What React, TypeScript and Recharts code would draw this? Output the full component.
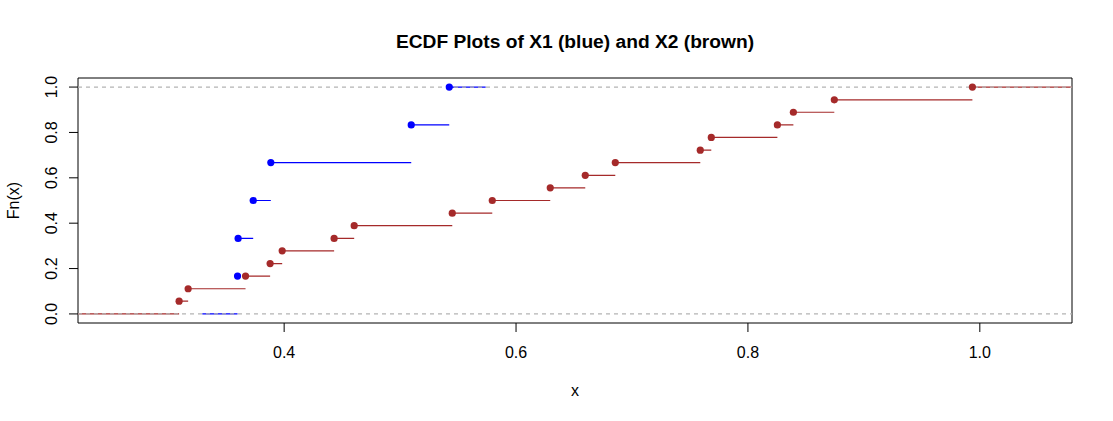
import React from 'react';
import { ComposedChart, Line, Scatter, XAxis, YAxis, ReferenceArea, Label } from 'recharts';

// sample knots, with the ECDF level reached at each knot
const x1Knots = [0.3598, 0.3603, 0.3733, 0.3885, 0.5096, 0.5424];
const x1Fn = [0.167, 0.333, 0.5, 0.667, 0.833, 1.0];
const x2Knots = [
  0.3094, 0.3172, 0.3667, 0.3879, 0.3983, 0.4431, 0.4604, 0.545, 0.5795,
  0.6295, 0.6597, 0.6856, 0.7589, 0.7684, 0.8254, 0.8392, 0.8745, 0.9936,
];
const x2Fn = [
  0.056, 0.111, 0.167, 0.222, 0.278, 0.333, 0.389, 0.444, 0.5,
  0.556, 0.611, 0.667, 0.722, 0.778, 0.833, 0.889, 0.944, 1.0,
];

const xTicks = [0.4, 0.6, 0.8, 1.0];
const yTicks = [0, 0.2, 0.4, 0.6, 0.8, 1.0];
const xDomain = [0.2222, 1.0795];
const yDomain = [-0.04, 1.04];
// how far each step function is drawn to the left/right
const x1Range = [0.3294, 0.5738];
const x2Range = [0.2222, 1.0795];
const refLevels = [0, 1];

const BLUE = '#0000ff';
const BROWN = '#a52a2a';
const FONT = '"Liberation Sans", Arial, sans-serif';

type Pt = { x: number; y: number | null };

// horizontal pieces of the step function, split by null points
const stepSegments = (knots: number[], fn: number[], lo: number, hi: number): Pt[] => {
  const starts = [lo, ...knots];
  const ends = [...knots, hi];
  const levels = [0, ...fn];
  const pts: Pt[] = [];
  starts.forEach((s, i) => {
    pts.push({ x: s, y: levels[i] });
    pts.push({ x: ends[i], y: levels[i] });
    pts.push({ x: ends[i], y: null });
  });
  return pts;
};

const x1Steps = stepSegments(x1Knots, x1Fn, x1Range[0], x1Range[1]);
const x2Steps = stepSegments(x2Knots, x2Fn, x2Range[0], x2Range[1]);
const x1Points = x1Knots.map((x, i) => ({ x, y: x1Fn[i] }));
const x2Points = x2Knots.map((x, i) => ({ x, y: x2Fn[i] }));
const refLines = refLevels.map((lv) => [
  { x: xDomain[0], y: lv },
  { x: xDomain[1], y: lv },
]);

const dot = (color: string) => (props: any) => (
  <circle cx={props.cx} cy={props.cy} r={3.6} fill={color} stroke="none" />
);

const XTick = (props: any) => (
  <text x={props.x} y={358} textAnchor="middle" fontSize={16} fontFamily={FONT} fill="#000">
    {props.payload.value.toFixed(1)}
  </text>
);

const YTick = (props: any) => (
  <text
    x={52}
    y={props.y}
    textAnchor="middle"
    dominantBaseline="central"
    fontSize={16}
    fontFamily={FONT}
    fill="#000"
    transform={`rotate(-90 52 ${props.y})`}
  >
    {props.payload.value.toFixed(1)}
  </text>
);

export default function App() {
  return (
    <div style={{ position: 'absolute', left: 0, top: 0, width: 1113, height: 421, background: '#fff' }}>
      <svg width={1113} height={78} style={{ position: 'absolute', left: 0, top: 0 }}>
        <text x={575} y={47.5} textAnchor="middle" fontSize={19.2} fontWeight="bold" fontFamily={FONT} fill="#000">
          ECDF Plots of X1 (blue) and X2 (brown)
        </text>
      </svg>
      <ComposedChart width={1113} height={421} margin={{ top: 78, right: 41, bottom: 0, left: 0 }}>
        <XAxis
          dataKey="x"
          type="number"
          domain={xDomain}
          allowDataOverflow
          ticks={xTicks}
          tick={<XTick />}
          tickSize={9}
          tickLine={{ stroke: '#000' }}
          axisLine={false}
          height={98}
        >
          <Label
            content={(p: any) => (
              <text x={p.viewBox.x + p.viewBox.width / 2} y={396} textAnchor="middle" fontSize={16} fontFamily={FONT} fill="#000">
                x
              </text>
            )}
          />
        </XAxis>
        <YAxis
          dataKey="y"
          type="number"
          domain={yDomain}
          allowDataOverflow
          ticks={yTicks}
          tick={<YTick />}
          tickSize={9}
          tickLine={{ stroke: '#000' }}
          axisLine={false}
          width={78}
        >
          <Label
            content={(p: any) => {
              const cy = p.viewBox.y + p.viewBox.height / 2;
              return (
                <text
                  x={13}
                  y={cy}
                  textAnchor="middle"
                  dominantBaseline="central"
                  fontSize={16}
                  fontFamily={FONT}
                  fill="#000"
                  transform={`rotate(-90 13 ${cy})`}
                >
                  Fn(x)
                </text>
              );
            }}
          />
        </YAxis>
        <ReferenceArea x1={xDomain[0]} x2={xDomain[1]} y1={yDomain[0]} y2={yDomain[1]} fill="none" stroke="#000" strokeWidth={1} />
        <Line data={x2Steps} dataKey="y" stroke={BROWN} strokeWidth={1.2} dot={false} connectNulls={false} isAnimationActive={false} />
        <Line data={x1Steps} dataKey="y" stroke={BLUE} strokeWidth={1.2} dot={false} connectNulls={false} isAnimationActive={false} />
        {refLines.map((d, i) => (
          <Line key={i} data={d} dataKey="y" stroke="#b4b4b4" strokeWidth={1.2} strokeDasharray="4 4" dot={false} isAnimationActive={false} />
        ))}
        <Scatter data={x2Points} dataKey="y" shape={dot(BROWN)} isAnimationActive={false} />
        <Scatter data={x1Points} dataKey="y" shape={dot(BLUE)} isAnimationActive={false} />
      </ComposedChart>
    </div>
  );
}
